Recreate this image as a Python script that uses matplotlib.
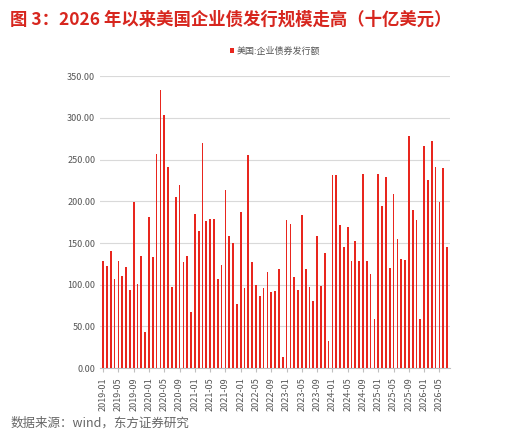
import matplotlib
matplotlib.use("Agg")
import matplotlib.pyplot as plt
import numpy as np

plt.rcParams['font.family'] = ['Noto Sans CJK SC', 'DejaVu Sans']

values = [128,123,140,107,129,111,121,94,199,101,135,43,
          181,133,257,333,304,241,97,205,219,127,134,67,
          185,164,270,176,179,179,107,124,214,158,150,77,
          187,96,255,127,100,86,96,115,91,92,119,13,
          177,173,109,94,184,119,97,80,158,98,138,32,
          231,231,172,145,169,128,153,128,233,129,113,59,
          233,194,229,120,209,155,131,130,278,189,178,59,
          266,226,272,241,199,240,145]
labels = []
y, m = 2019, 1
for _ in values:
    labels.append(f"{y}-{m:02d}")
    m += 1
    if m > 12:
        m, y = 1, y + 1

fig = plt.figure(figsize=(5.24, 4.43), dpi=100)
ax = fig.add_axes([0.191, 0.169, 0.668, 0.659])
x = np.arange(len(values))
ax.bar(x, values, width=0.45, color='#e8261e', label='美国:企业债券发行额', zorder=3)
ax.set_ylim(0, 350)
ax.set_xlim(-0.8, len(values) - 0.2)
ax.set_yticks(np.arange(0, 351, 50))
ax.set_yticklabels([f"{v:.2f}" for v in np.arange(0, 351, 50)], fontsize=6.5, color='#555555')
ax.set_xticks(x[::4])
ax.set_xticklabels(labels[::4], rotation=90, fontsize=6.5, color='#555555')
ax.grid(axis='y', color='#d9d9d9', linewidth=0.8, zorder=0)
for s in ['top', 'right', 'left']:
    ax.spines[s].set_visible(False)
ax.spines['bottom'].set_color('#bfbfbf')
ax.tick_params(axis='y', length=0)
ax.tick_params(axis='x', length=3, color='#bfbfbf')
ax.legend(loc='upper center', bbox_to_anchor=(0.5, 1.13), frameon=False, fontsize=6.5,
          handlelength=0.5, handleheight=0.5, handletextpad=0.3, labelcolor='#555555')
fig.text(0.02, 0.955, '图 3：2026 年以来美国企业债发行规模走高（十亿美元）', fontsize=12.5,
         color='#d7261e', fontweight='bold', va='center')
fig.text(0.02, 0.045, '数据来源：wind，东方证券研究', fontsize=9, color='#666666', va='center')
fig.savefig('out.png', dpi=100)
